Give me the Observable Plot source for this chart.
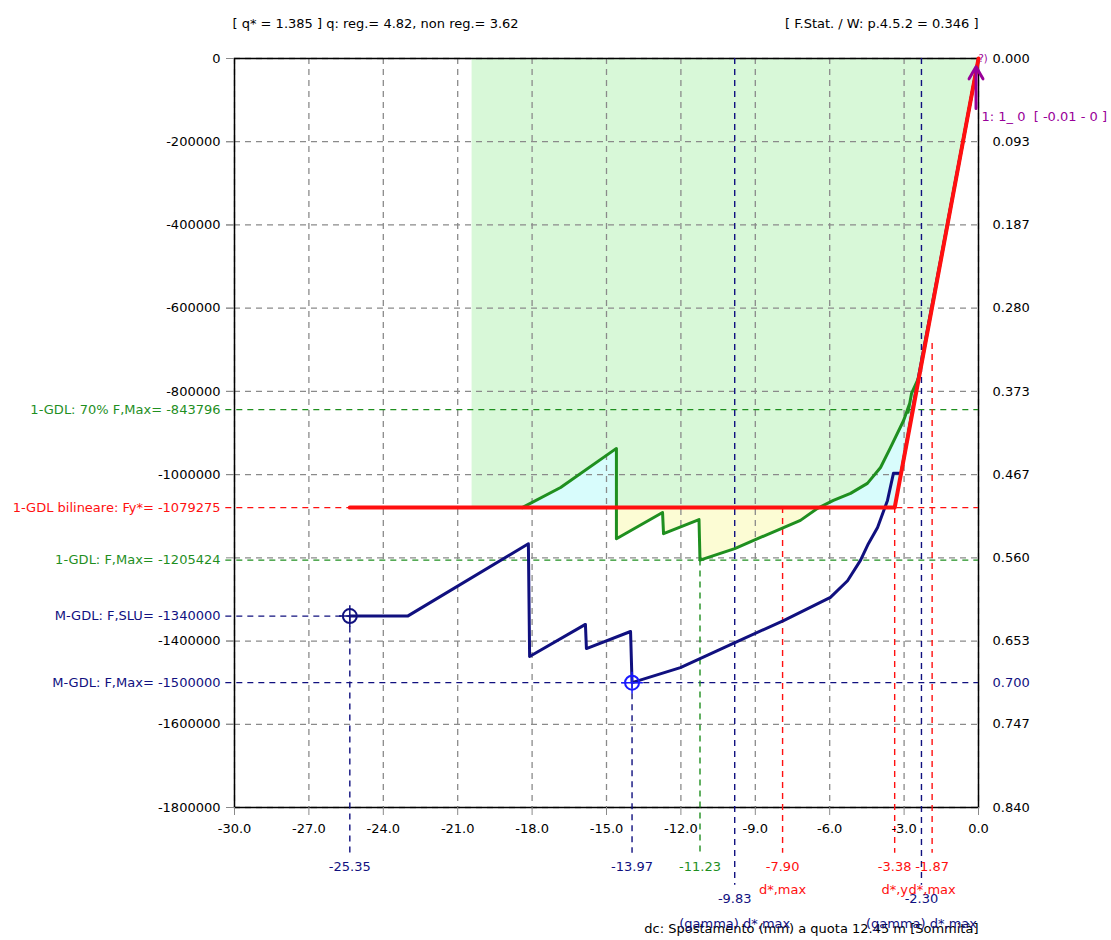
<!DOCTYPE html>
<html><head><meta charset="utf-8">
<script src="https://cdn.jsdelivr.net/npm/d3@7"></script>
<script src="https://cdn.jsdelivr.net/npm/@observablehq/plot@0.6"></script>
<style>html,body{margin:0;padding:0;background:#fff}svg{display:block}</style>
</head><body><div id="chart"></div>
<script>
// ---------------- DATA ----------------
const xTicks = [-30, -27, -24, -21, -18, -15, -12, -9, -6, -3, 0];
const yTicks = [0, -200000, -400000, -600000, -800000, -1000000, -1200000, -1400000, -1600000, -1800000];
// left tick labels (the -1200000 label is covered by the F,Max label in the reference)
const yTicksLeftLabels = [0, -200000, -400000, -600000, -800000, -1000000, -1400000, -1600000, -1800000];
const yMin = -1800000;          // bottom of force axis
const rightAxisMax = 0.840;     // right-axis value at yMin
const Fy = -1079275;            // 1-GDL bilinear yield force
const zoneLeft = -20.44;        // left edge of the shaded zone

// 1-GDL capacity curve (green) [displacement, force]
const gdl1 = [
  [0, 0], [-2.40, -766000], [-2.70, -805000], [-2.84, -850000], [-2.78, -830000],
  [-3.02, -870000], [-3.55, -935000], [-3.95, -983000], [-4.48, -1021000],
  [-5.16, -1045000], [-5.85, -1062000], [-6.49, -1081000], [-7.18, -1110000],
  [-8.79, -1151000], [-9.83, -1178000], [-11.23, -1205424], [-11.27, -1108000],
  [-12.70, -1142000], [-12.74, -1091000], [-14.60, -1154000], [-14.60, -937000],
  [-16.85, -1031000], [-18.40, -1079275]
];
// M-GDL capacity curve (navy)
const mgdl = [
  [0, 0], [-1.50, -475000], [-2.50, -790000], [-3.12, -997000], [-3.43, -997000],
  [-3.67, -1062000], [-4.07, -1127000], [-4.44, -1166000], [-4.76, -1206000],
  [-5.28, -1255000], [-5.97, -1295000], [-7.86, -1351000], [-9.80, -1403000],
  [-12.02, -1464000], [-13.97, -1500000], [-14.03, -1377000], [-15.81, -1418000],
  [-15.85, -1360000], [-18.10, -1437000], [-18.15, -1166000], [-23.02, -1340000],
  [-25.35, -1340000]
];
// 1-GDL bilinear (red)
const bilinear = [[-25.35, Fy], [-3.38, Fy], [0, 0]];

// reference forces (left labels)
const refForces = [
  {kind: "g", value: -843796,  to: 0,      label: "1-GDL: 70% F,Max= -843796"},
  {kind: "r", value: Fy,       to: 0,      label: "1-GDL bilineare: Fy*= -1079275"},
  {kind: "g", value: -1205424, to: 0,      label: "1-GDL: F,Max= -1205424"},
  {kind: "m", value: -1340000, to: -25.35, label: "M-GDL: F,SLU= -1340000"},
  {kind: "m", value: -1500000, to: 0,      label: "M-GDL: F,Max= -1500000"}
];
const rightExtra = [{kind: "m", value: -1500000, label: "0.700"}];

// reference displacements, first label row
const refDisps = [
  {kind: "m", value: -25.35, from: -1340000, label: "-25.35"},
  {kind: "m", value: -13.97, from: -1500000, label: "-13.97"},
  {kind: "g", value: -11.23, from: -1205424, label: "-11.23"},
  {kind: "r", value: -7.90,  from: Fy,       label: "-7.90", sub: "d*,max"},
  {kind: "r", value: -3.38,  from: Fy,       label: "-3.38", sub: "d*,y"},
  {kind: "r", value: -1.87,  from: -685000,  label: "-1.87", sub: "d*,max"}
];
// gamma-scaled displacements, second label row
const gammaDisps = [
  {kind: "m", value: -9.83, from: 0, label: "-9.83", sub: "(gamma) d*,max"},
  {kind: "m", value: -2.30, from: 0, label: "-2.30", sub: "(gamma) d*,max"}
];
const circles = [
  {kind: "m", x: -25.35, y: -1340000},
  {kind: "b", x: -13.97, y: -1500000}
];
const topLeftText = "[ q* = 1.385 ] q: reg.= 4.82, non reg.= 3.62";
const topRightText = "[ F.Stat. / W: p.4.5.2 = 0.346 ]";
const xTitle = "dc: Spostamento (mm) a quota 12.45 m [Sommità]";
const nodeArrow = {x: -0.1, y1: -120000, y2: -20000, label: "1: 1_ 0  [ -0.01 - 0 ]"};

// ---------------- STYLE ----------------
const C = {g: "#1f8f1f", r: "#ff1010", m: "#10107f", b: "#1a1aff", p: "#990099",
           grid: "#8a8a8a", zone: "#d8f8d8", cyan: "#d8fcfc", yellow: "#fcfcd4"};
const yExt1 = yMin - 110000, yExt2 = yMin - 187000, xLeftTick = -30.35;

// derived fill polygons
const zonePoly = [[zoneLeft, 0], [0, 0], bilinear[1], [zoneLeft, Fy]];
const cyanLeft = [[-14.60, Fy], ...gdl1.slice(20)];
const cyanRight = [...gdl1.slice(2, 12), bilinear[1]];
const yellowPoly = [[-6.40, Fy], ...gdl1.slice(11, 20), [-14.60, Fy]];

const X = d => d[0], Y = d => d[1];
const poly = (data, fill) => Plot.line(data, {x: X, y: Y, fill, stroke: null});
const dash = "6,5";

const chart = Plot.plot({
  width: 1111, height: 940,
  marginLeft: 234, marginRight: 133, marginTop: 58, marginBottom: 133,
  x: {domain: [-30, 0]},
  y: {domain: [yMin, 0]},
  style: {fontFamily: "'DejaVu Sans', sans-serif", fontSize: "13px", background: "#fff", color: "#000"},
  marks: [
    poly(zonePoly, C.zone),
    poly(cyanLeft, C.cyan),
    poly(cyanRight, C.cyan),
    poly(yellowPoly, C.yellow),
    Plot.gridX(xTicks, {stroke: C.grid, strokeOpacity: 1, strokeWidth: 1.3, strokeDasharray: dash}),
    Plot.gridY(yTicks, {stroke: C.grid, strokeOpacity: 1, strokeWidth: 1.3, strokeDasharray: dash}),
    Plot.frame({stroke: "#000", strokeWidth: 1.5}),
    // reference horizontal lines
    Plot.ruleY(refForces, {y: "value", x1: xLeftTick, x2: "to", stroke: d => C[d.kind], strokeWidth: 1.4, strokeDasharray: dash}),
    // reference vertical lines
    Plot.ruleX(refDisps, {x: "value", y1: "from", y2: yExt1, stroke: d => C[d.kind], strokeWidth: 1.4, strokeDasharray: dash}),
    Plot.ruleX(gammaDisps, {x: "value", y1: "from", y2: yExt2, stroke: d => C[d.kind], strokeWidth: 1.4, strokeDasharray: dash}),
    // curves
    Plot.line(mgdl, {x: X, y: Y, stroke: C.m, strokeWidth: 3}),
    Plot.line(gdl1, {x: X, y: Y, stroke: C.g, strokeWidth: 3}),
    Plot.line(bilinear, {x: X, y: Y, stroke: C.r, strokeWidth: 4}),
    // markers
    Plot.dot(circles, {x: "x", y: "y", r: 7, stroke: d => C[d.kind], strokeWidth: 2, fill: "none"}),
    Plot.dot(circles, {x: "x", y: "y", r: 7, symbol: "plus", stroke: d => C[d.kind], strokeWidth: 1.5}),
    // axes
    Plot.axisY(yTicks, {anchor: "left", tickSize: 8, tickPadding: 6, stroke: C.grid, label: null, text: null}),
    Plot.axisY(yTicksLeftLabels, {anchor: "left", tickSize: 8, tickPadding: 6, stroke: C.grid, label: null, tickFormat: d => String(d)}),
    Plot.axisY(yTicks, {anchor: "right", tickSize: 0, tickPadding: 14, label: null,
      tickFormat: d => Math.abs(d / yMin * rightAxisMax).toFixed(3)}),
    Plot.axisX(xTicks, {anchor: "bottom", tickSize: 8, tickPadding: 8, stroke: C.grid, label: null, tickFormat: d => d.toFixed(1)}),
    // left colored labels
    Plot.text(refForces, {x: -30, y: "value", text: "label", fill: d => C[d.kind], textAnchor: "end", dx: -14}),
    Plot.text(rightExtra, {x: 0, y: "value", text: "label", fill: d => C[d.kind], textAnchor: "start", dx: 14}),
    // bottom colored labels
    Plot.text(gammaDisps, {x: "value", text: "label", frameAnchor: "bottom", dy: 95, fill: d => C[d.kind]}),
    Plot.text(refDisps, {x: "value", text: "label", frameAnchor: "bottom", dy: 63, fill: d => C[d.kind]}),
    Plot.text(refDisps.filter(d => d.sub), {x: "value", text: "sub", frameAnchor: "bottom", dy: 86, fill: d => C[d.kind]}),
    Plot.text([xTitle], {frameAnchor: "bottom-right", text: d => d, dy: 125, dx: 0, textAnchor: "end", fill: "#000"}),
    Plot.text(gammaDisps, {x: "value", text: "sub", frameAnchor: "bottom", dy: 120, fill: d => C[d.kind]}),
    // top texts
    Plot.text([topLeftText], {frameAnchor: "top-left", text: d => d, dy: -40, dx: -2, textAnchor: "start", fill: "#000"}),
    Plot.text([topRightText], {frameAnchor: "top-right", text: d => d, dy: -40, textAnchor: "end", fill: "#000"}),
    // node arrow
    Plot.arrow([nodeArrow], {x: "x", y1: "y1", y2: "y2", stroke: C.p, strokeWidth: 3, headLength: 14}),
    Plot.text([nodeArrow], {x: 0, y: "y1", text: "label", fill: C.p, textAnchor: "start", dx: 3, dy: 8}),
    Plot.text([nodeArrow], {x: 0, y: 0, text: () => "?)", fill: C.p, textAnchor: "start", dx: 0, fontSize: 10})
  ]
});
document.getElementById("chart").appendChild(chart);
</script>
</body></html>
